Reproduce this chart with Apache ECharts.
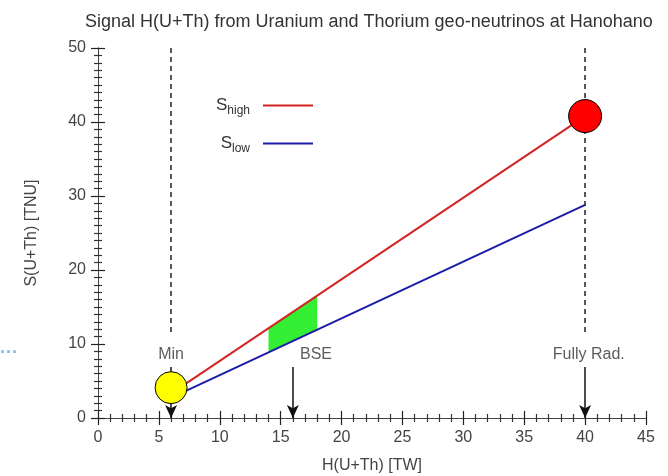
<!DOCTYPE html>
<html>
<head>
<meta charset="utf-8">
<script src="https://cdn.jsdelivr.net/npm/echarts@6/dist/echarts.min.js"></script>
<style>html,body{margin:0;padding:0;background:#fff}#map{width:668px;height:476px}</style>
</head>
<body>
<div id="map"></div>
<script>
// chart data
var highLine = [[7, 4.4], [40, 40.8]];
var lowLine = [[7, 3.5], [40, 28.8]];
var bseBand = [[14, 8.9, 12.1], [18, 11.9, 16.5]];   // x, low, high
var minPoint = [[6, 4.1]];
var fullPoint = [[40, 40.8]];
var guideX = [6, 40];
var guideFrom = 50, guideTo = 11.5;
var arrowX = [6, 16, 40];
var arrowFrom = 6.9, arrowTo = 0;
var markLabels = [['Min', 6], ['BSE', 17.9], ['Fully Rad.', 40.3]];
var labelY = 8.6;

var font = 'Liberation Sans, Arial, sans-serif';
var myChart = echarts.init(document.getElementById('map'));

var axisCommon = function (max, interval, split, showLabel) {
    return {
        type: 'value', min: 0, max: max, interval: interval,
        axisLine: { show: true, lineStyle: { color: '#444', width: 1 } },
        axisTick: { show: true, inside: true, length: 7, lineStyle: { color: '#222', width: 1.2 } },
        minorTick: { show: true, splitNumber: split, length: 4, lineStyle: { color: '#333', width: 1.2 } },
        splitLine: { show: false },
        axisLabel: { show: showLabel, color: '#444', fontSize: 16, fontFamily: font, margin: 12 }
    };
};

var xBottom = axisCommon(45, 5, 5, true);
xBottom.position = 'bottom';
xBottom.name = 'H(U+Th) [TW]';
xBottom.nameLocation = 'middle';
xBottom.nameGap = 40;
xBottom.nameTextStyle = { color: '#444', fontSize: 16, fontFamily: font };
var xTop = axisCommon(45, 5, 5, false);
xTop.position = 'top';

var yLeft = axisCommon(50, 10, 10, true);
yLeft.position = 'left';
yLeft.name = 'S(U+Th) [TNU]';
yLeft.nameLocation = 'middle';
yLeft.nameGap = 58;
yLeft.nameTextStyle = { color: '#444', fontSize: 16, fontFamily: font };
var yRight = axisCommon(50, 10, 10, false);
yRight.position = 'right';

var legendText = function (sub) {
    return {
        formatter: function () { return '{s|S}{sub|' + sub + '}'; },
        textStyle: {
            rich: {
                s: { fontSize: 17, color: '#333', fontFamily: font },
                sub: { fontSize: 12, color: '#333', fontFamily: font, padding: [10, 8, 0, 0] }
            }
        }
    };
};

var option = {
    backgroundColor: '#fff',
    animation: false,
    title: {
        text: 'Signal H(U+Th) from Uranium and Thorium geo-neutrinos at Hanohano',
        left: 80, top: 8,
        textStyle: { color: '#333', fontSize: 18, fontWeight: 'normal', fontFamily: font }
    },
    legend: [
        Object.assign({ data: ['S_high'], right: 350, top: 92, align: 'right', icon: 'rect',
            itemWidth: 50, itemHeight: 2, selectedMode: false }, legendText('high')),
        Object.assign({ data: ['S_low'], right: 350, top: 130, align: 'right', icon: 'rect',
            itemWidth: 50, itemHeight: 2, selectedMode: false }, legendText('low'))
    ],
    grid: { left: 98, right: 22, top: 48, bottom: 58, outerBoundsMode: 'none' },
    xAxis: [xBottom, xTop],
    yAxis: [yLeft, yRight],
    graphic: [
        { type: 'text', left: 0, top: 344, style: { text: '···', fill: '#7fb6f5', fontSize: 18, fontWeight: 'bold' } }
    ],
    series: [
        {
            type: 'custom', name: 'BSE band', z: 1,
            data: bseBand,
            renderItem: function (params, api) {
                if (params.dataIndex !== 0) return;
                var pts = [];
                bseBand.forEach(function (r) { pts.push(api.coord([r[0], r[1]])); });
                for (var i = bseBand.length - 1; i >= 0; i--) pts.push(api.coord([bseBand[i][0], bseBand[i][2]]));
                return { type: 'polygon', shape: { points: pts }, style: { fill: '#33ee33' } };
            },
            encode: { x: 0, y: 1 }
        },
        {
            type: 'line', name: 'S_high', data: highLine, z: 3, symbol: 'none',
            lineStyle: { color: '#d42424', width: 2 }, itemStyle: { color: '#d42424' }
        },
        {
            type: 'line', name: 'S_low', data: lowLine, z: 3, symbol: 'none',
            lineStyle: { color: '#1c1ca8', width: 2 }, itemStyle: { color: '#1c1ca8' }
        },
        {
            // mirror axes (top / right) carry the dashed guides so their ticks get drawn
            type: 'line', name: 'guides', data: [], z: 2, xAxisIndex: 1, yAxisIndex: 1,
            markLine: {
                silent: true, animation: false, label: { show: false },
                symbol: ['none', 'none'],
                lineStyle: { color: '#222', type: [5, 4], width: 1.5 },
                data: guideX.map(function (x) {
                    return [{ coord: [x, guideFrom] }, { coord: [x, guideTo] }];
                })
            }
        },
        {
            type: 'line', name: 'arrows', data: [], z: 2,
            markLine: {
                silent: true, animation: false, label: { show: false },
                symbol: ['none', 'arrow'], symbolSize: [9, 13],
                lineStyle: { color: '#111', type: 'solid', width: 1.5 },
                data: arrowX.map(function (x) {
                    return [{ coord: [x, arrowFrom] }, { coord: [x, arrowTo] }];
                })
            }
        },
        {
            type: 'scatter', name: 'labels', z: 4, symbolSize: 0,
            data: markLabels.map(function (l) { return { value: [l[1], labelY], name: l[0] }; }),
            label: {
                show: true, position: 'inside', formatter: '{b}',
                color: '#333', fontSize: 16, fontFamily: font
            }
        },
        {
            type: 'scatter', name: 'Min', data: minPoint, z: 5, symbolSize: 32,
            itemStyle: { color: '#ffff00', borderColor: '#000', borderWidth: 1, opacity: 1 }
        },
        {
            type: 'scatter', name: 'Fully Rad.', data: fullPoint, z: 5, symbolSize: 33,
            itemStyle: { color: '#ff0000', borderColor: '#000', borderWidth: 1, opacity: 1 }
        }
    ]
};

myChart.setOption(option);
</script>
</body>
</html>
